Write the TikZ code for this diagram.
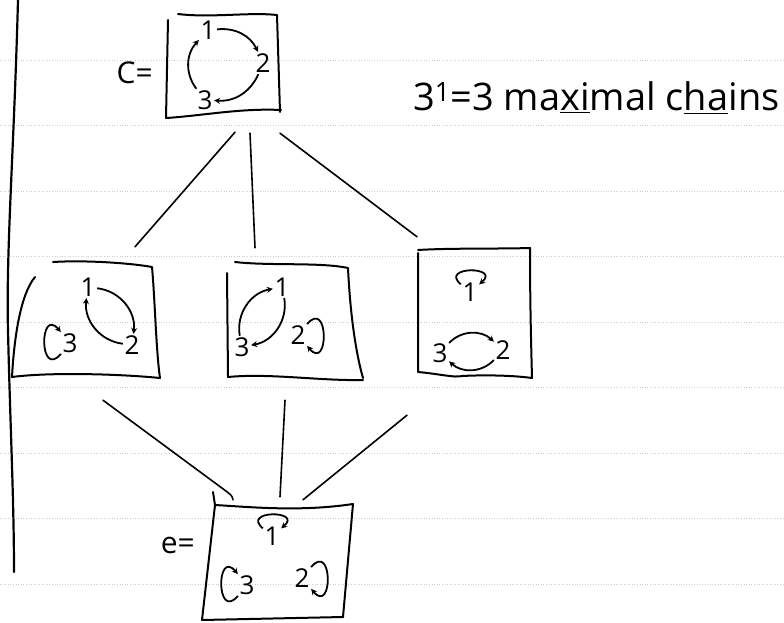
\documentclass[tikz,border=0pt]{standalone}
\usepackage{fontspec}
\setmainfont{Open Sans}
\usetikzlibrary{arrows.meta,calc}
\begin{document}
\begin{tikzpicture}[x=1pt,y=1pt,
  hand/.style={line width=2pt, line cap=round, line join=round},
  conn/.style={line width=1.6pt, line cap=round},
  arr/.style={line width=1.8pt, -{Stealth[length=6pt,width=6pt]}},
  dig/.style={font=\fontsize{26}{26}\selectfont, inner sep=1.5pt},
  boxnode/.style={draw=none, inner sep=0pt},
  rulestyle/.style={gray!40, dotted, line width=0.6pt},
  lpl/.style={draw, arr, loop, out=230, in=130, min distance=13pt, looseness=4},
  lpr/.style={draw, arr, loop, out=50, in=-50, min distance=13pt, looseness=4},
  lpa/.style={draw, arr, loop, out=140, in=40, min distance=13pt, looseness=4},
  lbl/.style={font=\fontsize{30}{30}\selectfont, inner sep=0pt}
]
\useasboundingbox (0,0) rectangle (784,-623);

% notebook ruling
\foreach \k in {0,...,8} \draw[rulestyle] (0,{-60-65.5*\k}) -- (784,{-60-65.5*\k});

% margin line
\draw[line width=2.2pt, line cap=round] (18,0) .. controls (14,-150) and (6,-250) .. (8,-330) .. controls (10,-420) and (14,-500) .. (14,-572);

% box nodes
\node[boxnode, minimum width=110, minimum height=103] (C) at (223,-66.5) {};
\node[boxnode, minimum width=143, minimum height=115] (L) at (86.5,-319.5) {};
\node[boxnode, minimum width=127, minimum height=115] (M) at (291.5,-319.5) {};
\node[boxnode, minimum width=112, minimum height=125] (R) at (474,-312.5) {};
\node[boxnode, minimum width=142, minimum height=115] (E) at (279,-562.5) {};

% hand drawn outlines
% C
\draw[hand] (178,-14) .. controls (210,-18) and (250,-12) .. (277,-15) -- (280,-112);
\draw[hand] (168,-20) -- (166,-118) .. controls (200,-116) and (240,-108) .. (281,-110);
% L
\draw[hand] (53,-262) .. controls (85,-260) and (130,-263) .. (152,-267) .. controls (155,-300) and (156,-350) .. (160,-378);
\draw[hand] (35,-277) .. controls (20,-295) and (14,-340) .. (12,-377) .. controls (50,-372) and (120,-374) .. (160,-378);
% M
\draw[hand] (235,-262) .. controls (270,-266) and (320,-262) .. (348,-268) .. controls (350,-310) and (355,-350) .. (363,-378);
\draw[hand] (227,-273) -- (228,-377) .. controls (270,-373) and (320,-381) .. (363,-380);
% R
\draw[hand] (418,-250) .. controls (450,-248) and (500,-249) .. (530,-248) .. controls (530,-300) and (531,-340) .. (532,-378);
\draw[hand] (418,-253) -- (418,-372) .. controls (440,-374) and (455,-378) .. (462,-376) .. controls (480,-375) and (510,-375) .. (532,-378);
% E
\draw[hand] (213,-492) -- (215,-505) .. controls (250,-507) and (300,-512) .. (353,-504) -- (343,-617);
\draw[hand] (215,-505) -- (202,-620) -- (343,-617);

% labels
\node[lbl, anchor=east] (Clab) at (153,-73) {C=};
\node[lbl, anchor=east] (Elab) at (195,-545) {e=};
\node[font=\fontsize{38}{38}\selectfont, anchor=base west, inner sep=0pt] (chains) at (413,-111)
  {3\textsuperscript{1}=3 ma\underline{xi}mal c\underline{ha}ins};

% C box: 3-cycle
\node[dig] (c1) at (208,-30) {1};
\node[dig] (c2) at (263,-63) {2};
\node[dig] (c3) at (205,-100) {3};
\draw[arr] (c1) to[bend left=35] (c2);
\draw[arr] (c2) to[bend left=35] (c3);
\draw[arr] (c3) to[bend left=40] (c1);

% L box
\node[dig] (l1) at (88,-287) {1};
\node[dig] (l2) at (132,-345) {2};
\node[dig] (l3) at (70,-343) {3};
\draw[arr] (l1) to[bend left=45] (l2);
\draw[arr] (l2) to[bend left=45] (l1);
\path (l3) edge[lpl] (l3);

% M box
\node[dig] (m1) at (282,-287) {1};
\node[dig] (m2) at (298,-335) {2};
\node[dig] (m3) at (242,-347) {3};
\draw[arr] (m3) to[bend left=45] (m1);
\draw[arr] (m1) to[bend left=45] (m3);
\path (m2) edge[lpr] (m2);

% R box
\node[dig] (r1) at (470,-292) {1};
\node[dig] (r2) at (503,-350) {2};
\node[dig] (r3) at (440,-353) {3};
\path (r1) edge[lpa] (r1);
\draw[arr] (r3) to[bend left=45] (r2);
\draw[arr] (r2) to[bend left=45] (r3);

% E box: identity
\node[dig] (e1) at (272,-536) {1};
\node[dig] (e2) at (302,-578) {2};
\node[dig] (e3) at (247,-585) {3};
\path (e1) edge[lpa] (e1);
\path (e2) edge[lpr] (e2);
\path (e3) edge[lpl] (e3);

% connectors
\draw[conn] ([xshift=48.5,yshift=15]L.north) -- ([xshift=12,yshift=-14]C.south);
\draw[conn] ([xshift=-36.5,yshift=14]M.north) -- ([xshift=27,yshift=-15]C.south);
\draw[conn] ([xshift=-57,yshift=13]R.north) -- ([xshift=57,yshift=-15]C.south);
\draw[conn] ([xshift=16.5,yshift=-23]L.south) -- ($(E.north)+(-52,13)$) to[out=-40,in=95] ([xshift=-46,yshift=5]E.north);
\draw[conn] ([xshift=-6.5,yshift=-23]M.south) -- ([xshift=1,yshift=8]E.north);
\draw[conn] ([xshift=-67,yshift=-40]R.south) -- ([xshift=24,yshift=5]E.north);
\end{tikzpicture}
\end{document}
